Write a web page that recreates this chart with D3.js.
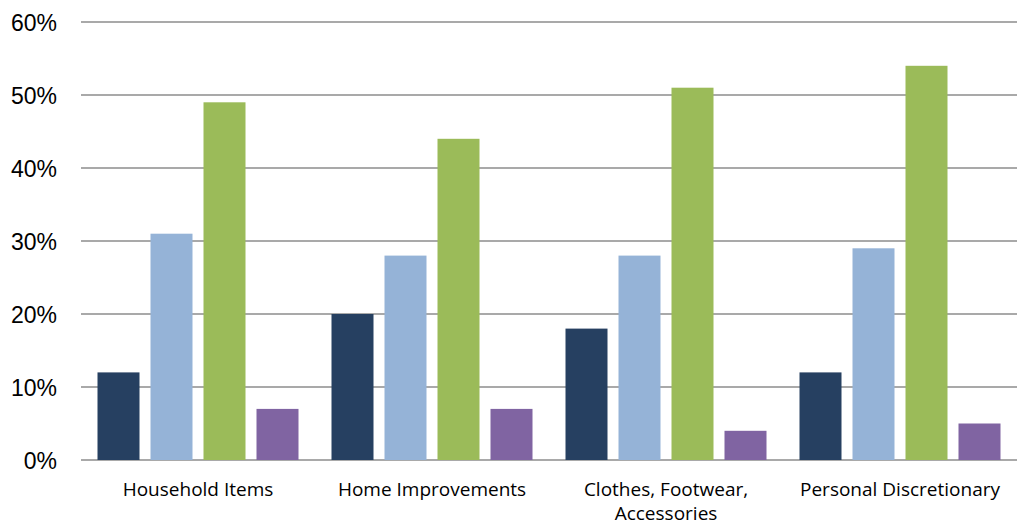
<!DOCTYPE html>
<html><head><meta charset="utf-8">
<script src="https://cdn.jsdelivr.net/npm/d3@7"></script>
<style>body{margin:0;background:#fff}</style>
</head><body>
<svg id="chart" width="1029" height="524"></svg>
<script>
const categories = ["Household Items", "Home Improvements", "Clothes, Footwear,\nAccessories", "Personal Discretionary"];
const seriesNames = ["Series 1", "Series 2", "Series 3", "Series 4"];
const series1 = [12, 20, 18, 12];
const series2 = [31, 28, 28, 29];
const series3 = [49, 44, 51, 54];
const series4 = [7, 7, 4, 5];
const colors = ["#264061", "#95B3D7", "#9BBB59", "#8064A2"];
const yTicks = [0, 10, 20, 30, 40, 50, 60];

(function() {
const allSeries = [series1, series2, series3, series4];
const svg = d3.select("#chart");
const mLeft = 81, mRight = 1017, mTop = 22, mBottom = 460;

const x0 = d3.scaleBand().domain(categories).range([mLeft, mRight]).padding(0);
const x1 = d3.scaleBand().domain(seriesNames).range([0, x0.bandwidth()])
  .paddingInner(11/53).paddingOuter(16.5/53);
const y = d3.scaleLinear().domain([0, 60]).range([mBottom, mTop]);

// gridlines
svg.append("g").selectAll("line").data(yTicks).join("line")
  .attr("x1", mLeft).attr("x2", mRight)
  .attr("y1", d => y(d)).attr("y2", d => y(d))
  .attr("stroke", "#8c8c8c").attr("stroke-width", 1.5);

// y axis labels
const yAxis = d3.axisLeft(y).tickValues(yTicks).tickFormat(d => d + "%").tickSize(0).tickPadding(0);
const ya = svg.append("g").attr("transform", `translate(57,0)`).call(yAxis);
ya.select(".domain").remove();
ya.selectAll("text").attr("font-family", "Liberation Sans, Arial, sans-serif")
  .attr("font-size", 23).attr("fill", "#000").attr("dy", "0.36em");

// bars
const rows = [];
categories.forEach((c, i) => allSeries.forEach((s, j) => rows.push({c, s: seriesNames[j], v: s[i], color: colors[j]})));
svg.append("g").selectAll("rect").data(rows).join("rect")
  .attr("x", d => x0(d.c) + x1(d.s))
  .attr("width", x1.bandwidth())
  .attr("y", d => y(d.v))
  .attr("height", d => y(0) - y(d.v))
  .attr("fill", d => d.color);

// category labels
const xAxis = d3.axisBottom(x0).tickSize(0).tickPadding(0).tickFormat("");
const xa = svg.append("g").attr("transform", `translate(0,${mBottom})`).call(xAxis);
xa.select(".domain").remove();
xa.selectAll(".tick").each(function(d) {
  const t = d3.select(this).append("text")
    .attr("text-anchor", "middle")
    .attr("font-family", "Open Sans, sans-serif")
    .attr("font-size", 19).attr("fill", "#000");
  d.split("\n").forEach((line, i) => {
    t.append("tspan").attr("x", 0).attr("y", 35.5 + i * 24).text(line);
  });
});
})();
</script>
</body></html>
